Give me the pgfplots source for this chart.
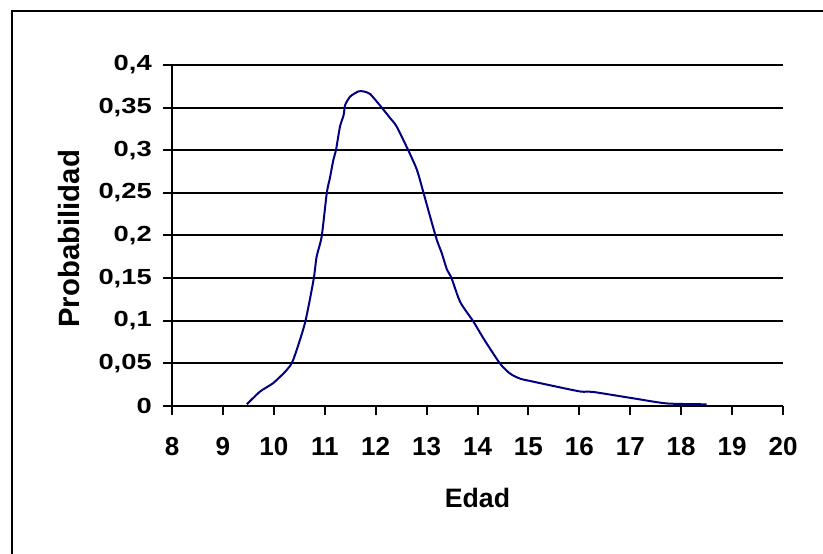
\documentclass[border=0pt]{standalone}
\usepackage{fontspec}
\setmainfont{Liberation Sans}
\usepackage{graphicx}
\usepackage{pgfplots}
\pgfplotsset{compat=1.18}
\definecolor{curva}{HTML}{000080}

\begin{document}
\begin{tikzpicture}
\useasboundingbox (0,0) rectangle (617.25pt,414.75pt);
\clip (0,0) rectangle (617.25pt,414.75pt);
% marco exterior (solo se ven los lados izquierdo y superior)
\draw[line width=1.5pt] (9pt,-20pt) -- (9pt,406.5pt) -- (650pt,406.5pt);
\begin{axis}[
  at={(129pt,110.25pt)}, anchor=south west,
  scale only axis, width=458.25pt, height=255.75pt,
  xmin=8, xmax=20, ymin=0, ymax=0.4,
  xtick={8,...,20},
  ytick={0,0.05,0.1,0.15,0.2,0.25,0.3,0.35,0.4},
  axis lines*=left,
  axis line style={line width=1.5pt, -},
  ymajorgrids=true,
  major grid style={black, line width=1.5pt},
  tick style={black, line width=1.5pt},
  tick align=outside,
  major tick length=6.5pt,
  scaled y ticks=false,
  /pgf/number format/assume math mode=true,
  /pgf/number format/use comma,
  /pgf/number format/fixed,
  /pgf/number format/precision=2,
  x tick label style={font=\fontsize{19.5}{19.5}\selectfont\bfseries, inner sep=0pt, anchor=north, yshift=-17pt},
  y tick label style={font=\fontsize{20.5}{20.5}\selectfont\bfseries, inner sep=0pt, anchor=east, xshift=-8.5pt},
  yticklabel={\scalebox{1}[0.8]{\pgfmathprintnumber{\tick}}},
  xlabel={Edad},
  xlabel style={font=\fontsize{20}{20}\selectfont\bfseries, at={(axis description cs:0.5,-0.269)}, anchor=center},
  ylabel={Probabilidad},
  ylabel style={font=\fontsize{22}{22}\selectfont\bfseries, at={(axis description cs:-0.168,0.49)}, anchor=center},
  clip=false,
]
\addplot[curva, line width=1.5pt, smooth, tension=0.4] coordinates {
  (9.47,0.002) (9.73,0.017) (9.99,0.027) (10.25,0.042) (10.38,0.054)
  (10.61,0.097) (10.78,0.148) (10.84,0.175) (10.94,0.199) (11.04,0.250)
  (11.10,0.267) (11.17,0.289) (11.22,0.300) (11.30,0.328) (11.37,0.341)
  (11.40,0.353) (11.50,0.363) (11.66,0.369) (11.76,0.369) (11.89,0.366)
  (12.12,0.350) (12.28,0.338) (12.41,0.328) (12.64,0.300) (12.81,0.277)
  (12.94,0.250) (13.07,0.222) (13.20,0.195) (13.30,0.179) (13.40,0.160)
  (13.49,0.150) (13.66,0.122) (13.92,0.099) (14.12,0.079) (14.44,0.050)
  (14.64,0.038) (14.84,0.032) (15.10,0.0285) (15.49,0.0235) (16.02,0.017)
  (16.28,0.0164) (17.06,0.009) (17.72,0.003) (18.50,0.002)
};
\end{axis}
\end{tikzpicture}
\end{document}
